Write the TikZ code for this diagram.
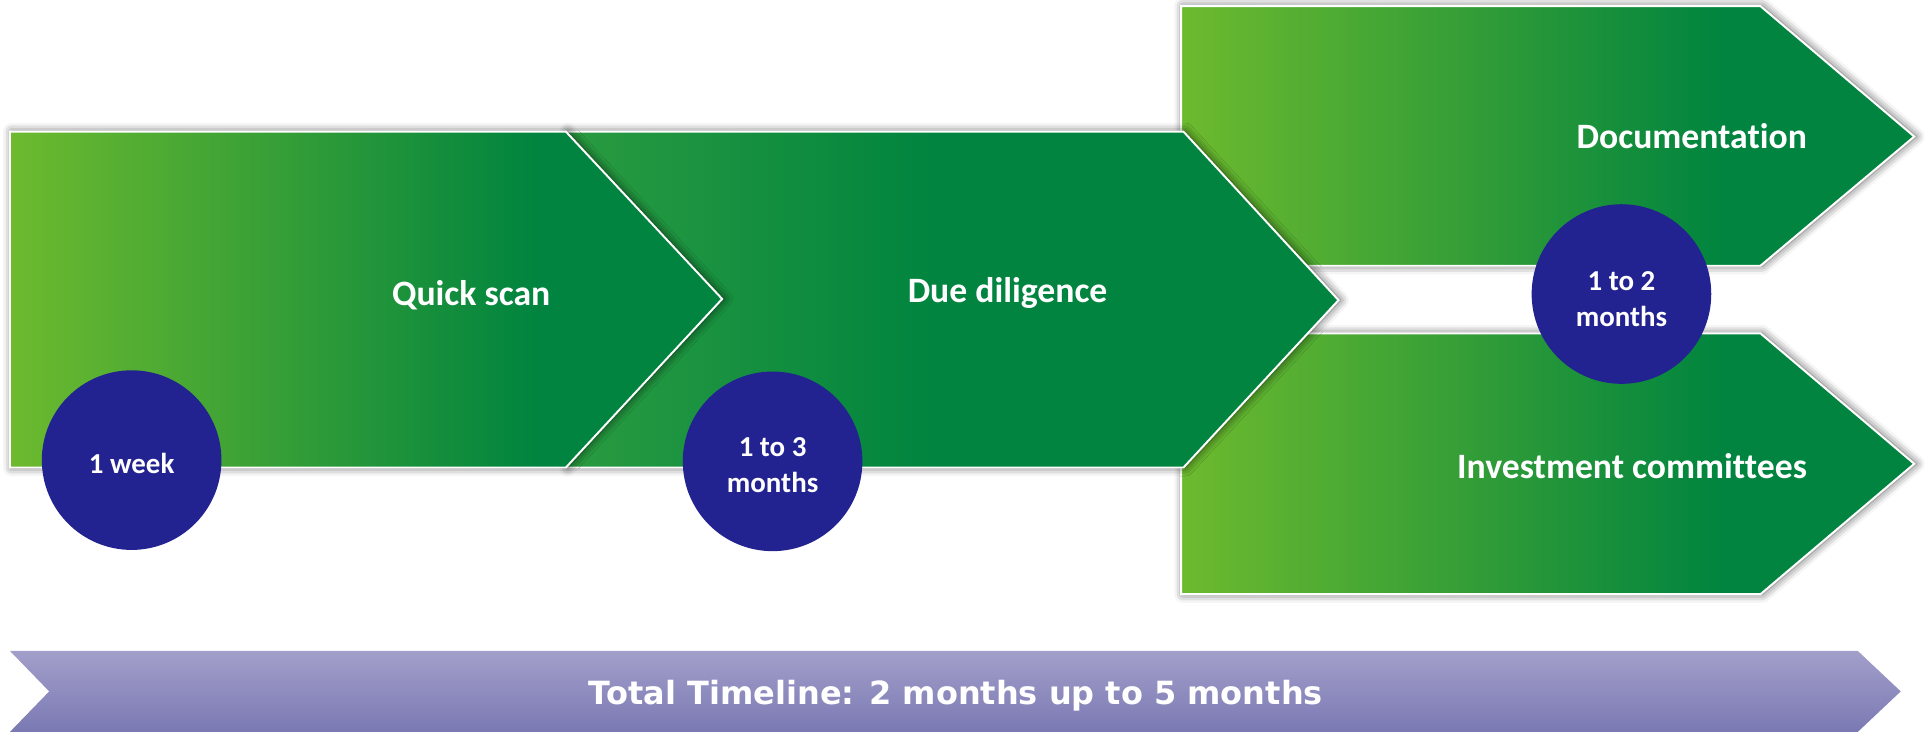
\documentclass[tikz,border=0pt]{standalone}
\usepackage{fontspec}
\newfontfamily\calfont[Ligatures={NoCommon}]{Carlito}
\newfontfamily\djfont{DejaVu Sans}
\usetikzlibrary{shadows.blur}
\definecolor{gLight}{HTML}{6DBA2E}
\definecolor{gDark}{HTML}{00843F}
\definecolor{gMid}{HTML}{2A9B40}
\definecolor{circ}{HTML}{222290}
\definecolor{barTop}{HTML}{A29FCA}
\definecolor{barBot}{HTML}{7B79B3}
\pgfdeclarehorizontalshading{greenarrow}{100bp}{color(0bp)=(gLight); color(25bp)=(gLight); color(62bp)=(gDark); color(100bp)=(gDark)}
\pgfdeclarehorizontalshading{ddarrow}{100bp}{color(0bp)=(gMid); color(25bp)=(gMid); color(49bp)=(gDark); color(100bp)=(gDark)}
\tikzset{
  arrowshape/.style={draw=white, line width=1.6pt, line join=miter,
    blur shadow={shadow xshift=1.5pt, shadow yshift=0pt, shadow blur radius=7pt, shadow opacity=65}},
  lbl/.style={text=white, font=\calfont\bfseries\fontsize{29}{35}\selectfont, inner sep=0pt},
  clbl/.style={text=white, font=\calfont\bfseries\fontsize{23.5}{28}\selectfont, inner sep=0pt, anchor=base},
  dot/.style={circle, fill=circ, minimum size=146pt, inner sep=0pt},
}
\begin{document}
\begin{tikzpicture}[x=1pt, y=-1pt]
\useasboundingbox (0,0) rectangle (1568,595);
% right-hand arrows
\path[arrowshape, shading=greenarrow] (960,5) -- (1431,5) -- (1556,111) -- (1431,216) -- (960,216) -- cycle;
\path[arrowshape, shading=greenarrow] (960,271) -- (1431,271) -- (1556,377) -- (1431,483) -- (960,483) -- cycle;
% due diligence
\path[arrowshape, shading=ddarrow] (460,107) -- (962,107) -- (1088,244) -- (962,380) -- (460,380) -- cycle;
% quick scan
\path[arrowshape, shading=greenarrow] (8,107) -- (460,107) -- (587,243) -- (460,380) -- (8,380) -- cycle;
% total timeline bar
\path[top color=barTop, bottom color=barBot] (8,529) -- (1510,529) -- (1545,562) -- (1510,595) -- (8,595) -- (40,562) -- cycle;
% labels
\node[lbl, anchor=base] (qs) at (383,248) {Quick scan};
\node[lbl, anchor=base] (dd) at (819,246) {Due diligence};
\node[lbl, anchor=base east] (doc) at (1469,121) {Documentation};
\node[lbl, anchor=base east] (ic) at (1469,389) {Investment committees};
% circles
\node[dot] (c1) at (107,374) {};
\node[dot] (c2) at (628,375) {};
\node[dot] (c3) at (1318,239) {};
\node[clbl] (c1t) at (107,385) {1 week};
\node[clbl] (c2a) at (628,371) {1 to 3};
\node[clbl] (c2b) at (628,400) {months};
\node[clbl] (c3a) at (1318,236) {1 to 2};
\node[clbl] (c3b) at (1318,265) {months};
% total
\node[text=white, font=\djfont\bfseries\fontsize{26}{30}\selectfont, anchor=base, inner sep=0pt] (tot) at (777,573) {Total Timeline: 2 months up to 5 months};
\end{tikzpicture}
\end{document}
